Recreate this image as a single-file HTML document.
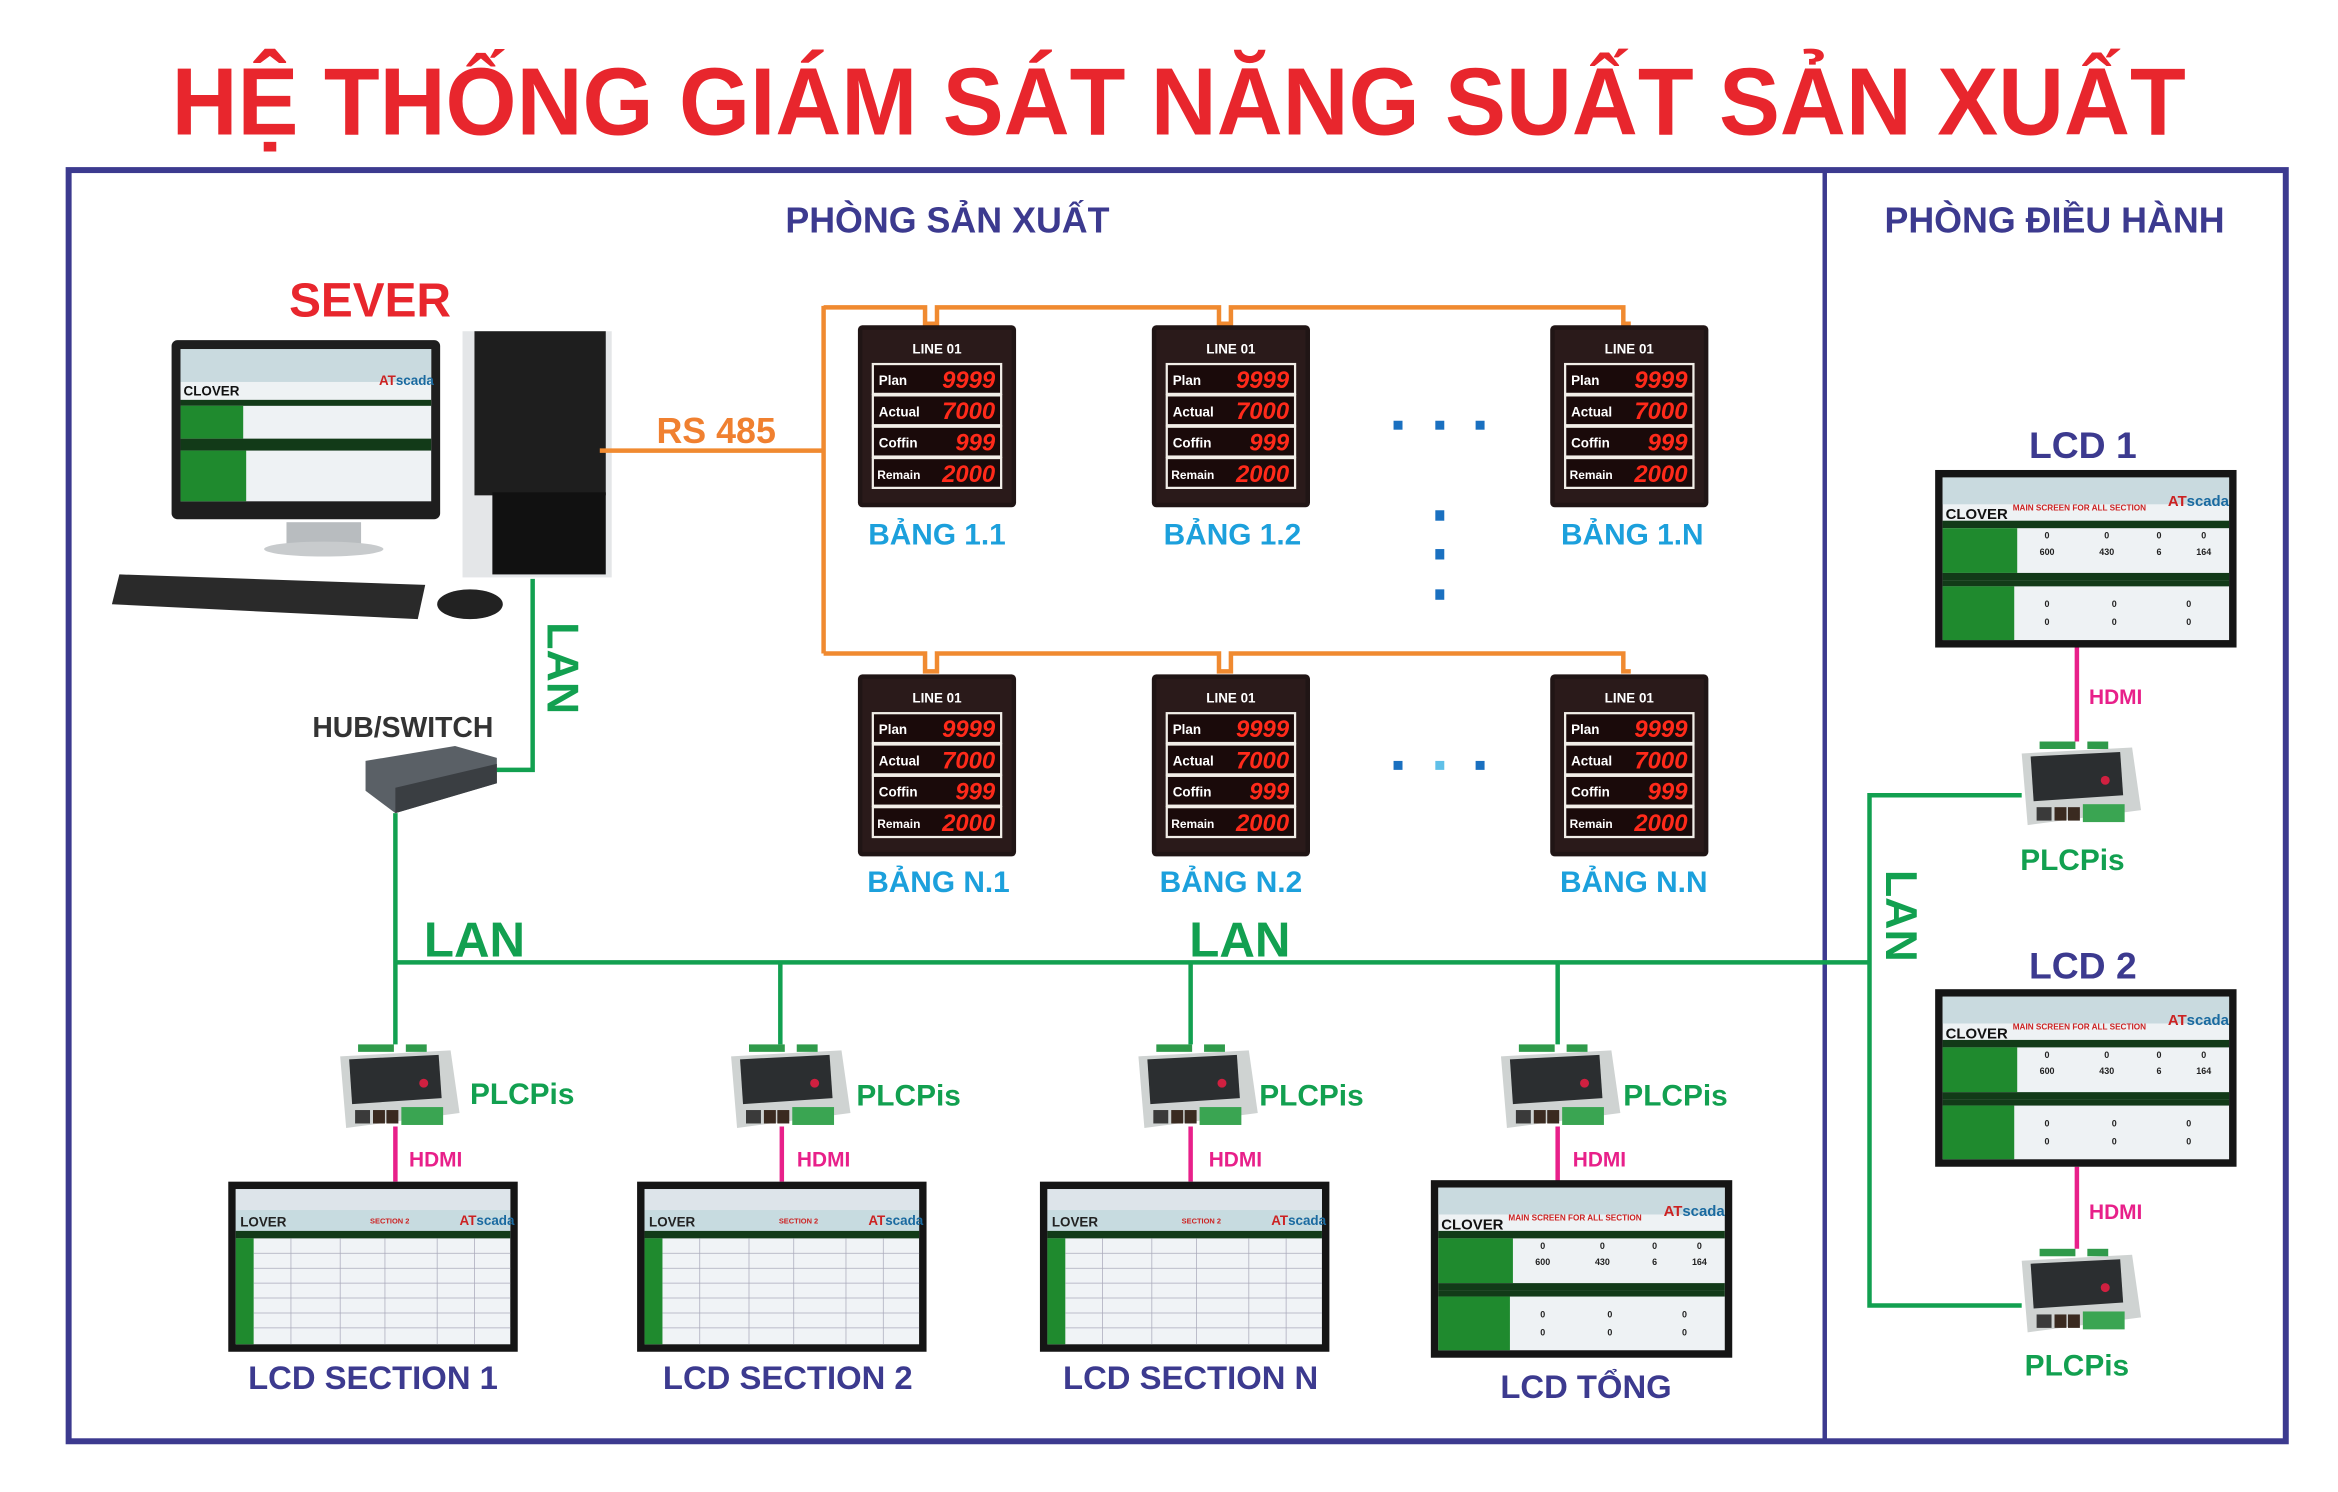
<!DOCTYPE html>
<html><head><meta charset="utf-8"><style>
html,body{margin:0;padding:0;background:#fff;}
svg{display:block;}
text{font-family:"Liberation Sans",sans-serif;font-weight:bold;}
</style></head><body>
<svg width="2338" height="1492" viewBox="0 0 1567 1000" preserveAspectRatio="none" xmlns="http://www.w3.org/2000/svg">
<defs>
<g id="board">
<rect x="0" y="0" width="106" height="122" rx="3" fill="#201515"/>
<rect x="3" y="3" width="100" height="116" fill="#2a1a1a"/>
<text x="53" y="19" font-size="9" fill="#fff" text-anchor="middle">LINE 01</text>
<g fill="#1a0a0a" stroke="#f2eee8" stroke-width="1.5">
<rect x="10" y="26" width="86" height="20"/><rect x="10" y="47" width="86" height="20"/><rect x="10" y="68" width="86" height="20"/><rect x="10" y="89" width="86" height="20"/></g>
<g font-size="9" fill="#fff"><text x="14" y="40">Plan</text><text x="14" y="61">Actual</text><text x="14" y="82">Coffin</text><text x="13" y="103" font-size="8">Remain</text></g>
<g font-size="16" fill="#ff2a1a" font-family="Liberation Mono" font-style="italic" text-anchor="end" font-weight="normal"><text x="92" y="42">9999</text><text x="92" y="63">7000</text><text x="92" y="84">999</text><text x="92" y="105">2000</text></g>
</g>
<g id="scr">
<rect x="0" y="0" width="194" height="114" fill="#151515"/>
<rect x="5" y="5" width="184" height="104" fill="#f0f3f6"/>
<rect x="5" y="5" width="184" height="14" fill="#dde4ea"/>
<rect x="5" y="19" width="184" height="14" fill="#c7dbe0"/>
<text x="8" y="30" font-size="9" fill="#222" font-family="Liberation Serif">LOVER</text>
<text x="95" y="28" font-size="5" fill="#c22" font-family="Liberation Serif">SECTION 2</text>
<text x="155" y="29" font-size="9" fill="#c22">AT<tspan fill="#1a6aa0">scada</tspan></text>
<rect x="5" y="33" width="184" height="5" fill="#123a18"/>
<rect x="5" y="38" width="12" height="71" fill="#1f8a2e"/>
<g stroke="#aab" stroke-width="0.5"><line x1="17" y1="48" x2="189" y2="48"/><line x1="17" y1="58" x2="189" y2="58"/><line x1="17" y1="68" x2="189" y2="68"/><line x1="17" y1="78" x2="189" y2="78"/><line x1="17" y1="88" x2="189" y2="88"/><line x1="17" y1="98" x2="189" y2="98"/>
<line x1="42" y1="38" x2="42" y2="109"/><line x1="75" y1="38" x2="75" y2="109"/><line x1="105" y1="38" x2="105" y2="109"/><line x1="140" y1="38" x2="140" y2="109"/><line x1="165" y1="38" x2="165" y2="109"/></g>
</g>
<g id="main">
<rect x="0" y="0" width="202" height="119" fill="#151515"/>
<rect x="5" y="5" width="192" height="109" fill="#eef2f4"/>
<rect x="5" y="5" width="192" height="18" fill="#c9dadf"/>
<text x="7" y="33" font-size="10" fill="#111" font-family="Liberation Serif">CLOVER</text>
<text x="52" y="27" font-size="5.5" fill="#c22" font-family="Liberation Serif">MAIN SCREEN FOR ALL SECTION</text>
<text x="156" y="24" font-size="10" fill="#c22">AT<tspan fill="#1a6aa0">scada</tspan></text>
<rect x="5" y="34" width="192" height="5" fill="#123a18"/>
<rect x="5" y="39" width="50" height="30" fill="#1f8a2e"/>
<rect x="5" y="69" width="192" height="5" fill="#123a18"/>
<rect x="5" y="74" width="192" height="4" fill="#123a18"/>
<rect x="5" y="78" width="48" height="36" fill="#1f8a2e"/>
<g font-size="6" fill="#222" font-family="Liberation Serif" font-weight="normal" text-anchor="middle">
<text x="75" y="46">0</text><text x="115" y="46">0</text><text x="150" y="46">0</text><text x="180" y="46">0</text>
<text x="75" y="57">600</text><text x="115" y="57">430</text><text x="150" y="57">6</text><text x="180" y="57">164</text>
<text x="75" y="92">0</text><text x="120" y="92">0</text><text x="170" y="92">0</text>
<text x="75" y="104">0</text><text x="120" y="104">0</text><text x="170" y="104">0</text></g>
</g>
<g id="plc">
<path d="M6 8 L80 4 L86 46 L10 56 Z" fill="#cfd3d2"/>
<path d="M12 10 L72 7 L74 36 L14 40 Z" fill="#2b2e30"/>
<rect x="18" y="0" width="24" height="5" fill="#2f9a4a"/>
<rect x="50" y="0" width="14" height="5" fill="#2f9a4a"/>
<rect x="16" y="44" width="10" height="9" fill="#3a3a3a"/>
<rect x="28" y="44" width="8" height="9" fill="#3a2a20"/>
<rect x="37" y="44" width="8" height="9" fill="#3a2a20"/>
<rect x="47" y="42" width="28" height="12" fill="#3aa552"/>
<circle cx="62" cy="26" r="3" fill="#d02040"/>
</g>
</defs>

<text x="790" y="90" font-size="64" fill="#e8262d" text-anchor="middle" textLength="1350" lengthAdjust="spacingAndGlyphs">HỆ THỐNG GIÁM SÁT NĂNG SUẤT SẢN XUẤT</text>

<rect x="46" y="114" width="1486" height="852" fill="none" stroke="#3c3a8f" stroke-width="4"/>
<line x1="1223" y1="114" x2="1223" y2="966" stroke="#3c3a8f" stroke-width="3"/>
<text x="635" y="156" font-size="24" fill="#3c3a8f" text-anchor="middle">PHÒNG SẢN XUẤT</text>
<text x="1377" y="156" font-size="24" fill="#3c3a8f" text-anchor="middle">PHÒNG ĐIỀU HÀNH</text>

<text x="248" y="212" font-size="32" fill="#e8262d" text-anchor="middle">SEVER</text>
<rect x="115" y="228" width="180" height="120" rx="4" fill="#1e1e1e"/>
<rect x="121" y="234" width="168" height="102" fill="#eef2f4"/>
<rect x="121" y="234" width="168" height="22" fill="#c9dadf"/>
<text x="123" y="265" font-size="9" fill="#111" font-family="Liberation Serif">CLOVER</text>
<rect x="121" y="268" width="168" height="4" fill="#123a18"/>
<rect x="121" y="272" width="42" height="22" fill="#1f8a2e"/>
<rect x="121" y="294" width="168" height="8" fill="#123a18"/>
<rect x="121" y="302" width="44" height="34" fill="#1f8a2e"/>
<text x="254" y="258" font-size="9" fill="#c22">AT<tspan fill="#1a6aa0">scada</tspan></text>
<rect x="192" y="350" width="50" height="16" fill="#b8bcbf"/>
<ellipse cx="217" cy="368" rx="40" ry="5" fill="#c8cbcd"/>
<path d="M80 385 L285 392 L280 415 L75 405 Z" fill="#2a2a2a"/>
<ellipse cx="315" cy="405" rx="22" ry="10" fill="#222"/>
<rect x="310" y="222" width="100" height="165" fill="#e4e6e8"/>
<rect x="318" y="222" width="88" height="110" fill="#1e1e1e"/>
<rect x="330" y="330" width="76" height="55" fill="#111"/>
<text x="480" y="297" font-size="24" fill="#f08030" text-anchor="middle">RS 485</text>
<g stroke="#f08a30" stroke-width="3" fill="none">
<line x1="402" y1="302" x2="552" y2="302"/>
<line x1="552" y1="205" x2="552" y2="438"/>
<path d="M552 206 H620 V217 H628 V206 H817 V217 H825 V206 H1088 V217 H1093"/>
<path d="M552 438 H620 V450 H628 V438 H817 V450 H825 V438 H1088 V450 H1093"/>
</g>
<use href="#board" x="575" y="218"/><use href="#board" x="772" y="218"/><use href="#board" x="1039" y="218"/>
<use href="#board" x="575" y="452"/><use href="#board" x="772" y="452"/><use href="#board" x="1039" y="452"/>
<g font-size="20" fill="#1ca0dc" text-anchor="middle">
<text x="628" y="365">BẢNG 1.1</text><text x="826" y="365">BẢNG 1.2</text><text x="1094" y="365">BẢNG 1.N</text>
<text x="629" y="598">BẢNG N.1</text><text x="825" y="598">BẢNG N.2</text><text x="1095" y="598">BẢNG N.N</text></g>
<g fill="#1a70c0">
<rect x="934" y="282" width="6" height="6"/><rect x="962" y="282" width="6" height="6"/><rect x="989" y="282" width="6" height="6"/>
<rect x="962" y="342" width="6" height="7"/><rect x="962" y="368" width="6" height="7"/><rect x="962" y="395" width="6" height="7"/>
<rect x="934" y="510" width="6" height="6"/><rect x="962" y="510" width="6" height="6" fill="#60c0e8"/><rect x="989" y="510" width="6" height="6"/></g>

<g stroke="#12a050" stroke-width="3" fill="none">
<path d="M357 388 V516 H330"/>
<line x1="265" y1="545" x2="265" y2="700"/>
<line x1="265" y1="645" x2="1253" y2="645"/>
<line x1="523" y1="645" x2="523" y2="700"/><line x1="798" y1="645" x2="798" y2="700"/><line x1="1044" y1="645" x2="1044" y2="700"/>
<path d="M1355 533 H1253 V875 H1355"/>
</g>
<text transform="translate(367,417) rotate(90)" font-size="30" fill="#12a050">LAN</text>
<text transform="translate(1264,583) rotate(90)" font-size="30" fill="#12a050">LAN</text>
<text x="318" y="641" font-size="33" fill="#12a050" text-anchor="middle">LAN</text>
<text x="831" y="641" font-size="33" fill="#12a050" text-anchor="middle">LAN</text>
<text x="270" y="494" font-size="19" fill="#333" text-anchor="middle">HUB/SWITCH</text>
<path d="M245 510 L305 500 L333 508 L333 525 L265 545 L245 530 Z" fill="#5a6066"/>
<path d="M265 528 L333 512 L333 525 L265 545 Z" fill="#3a3e42"/>

<g stroke="#e8208a" stroke-width="3">
<line x1="265" y1="755" x2="265" y2="792"/><line x1="524" y1="755" x2="524" y2="792"/><line x1="798" y1="755" x2="798" y2="792"/><line x1="1044" y1="755" x2="1044" y2="792"/>
<line x1="1392" y1="434" x2="1392" y2="497"/><line x1="1392" y1="782" x2="1392" y2="837"/></g>
<g font-size="14" fill="#e8208a" text-anchor="middle">
<text x="292" y="782">HDMI</text><text x="552" y="782">HDMI</text><text x="828" y="782">HDMI</text><text x="1072" y="782">HDMI</text>
<text x="1418" y="472">HDMI</text><text x="1418" y="817">HDMI</text></g>
<use href="#plc" x="222" y="700"/><use href="#plc" x="484" y="700"/><use href="#plc" x="757" y="700"/><use href="#plc" x="1000" y="700"/>
<use href="#plc" x="1349" y="497"/><use href="#plc" x="1349" y="837"/>
<g font-size="20" fill="#12a050" text-anchor="middle">
<text x="350" y="740">PLCPis</text><text x="609" y="741">PLCPis</text><text x="879" y="741">PLCPis</text><text x="1123" y="741">PLCPis</text>
<text x="1389" y="583">PLCPis</text><text x="1392" y="922">PLCPis</text></g>

<use href="#scr" x="153" y="792"/><use href="#scr" x="427" y="792"/><use href="#scr" x="697" y="792"/>
<use href="#main" x="959" y="791"/>
<use href="#main" x="1297" y="315"/><use href="#main" x="1297" y="663"/>
<g font-size="22" fill="#3c3a8f" text-anchor="middle">
<text x="250" y="931">LCD SECTION 1</text><text x="528" y="931">LCD SECTION 2</text><text x="798" y="931">LCD SECTION N</text><text x="1063" y="937">LCD TỔNG</text>
<text x="1396" y="307" font-size="25">LCD 1</text><text x="1396" y="656" font-size="25">LCD 2</text></g>
</svg>
</body></html>
